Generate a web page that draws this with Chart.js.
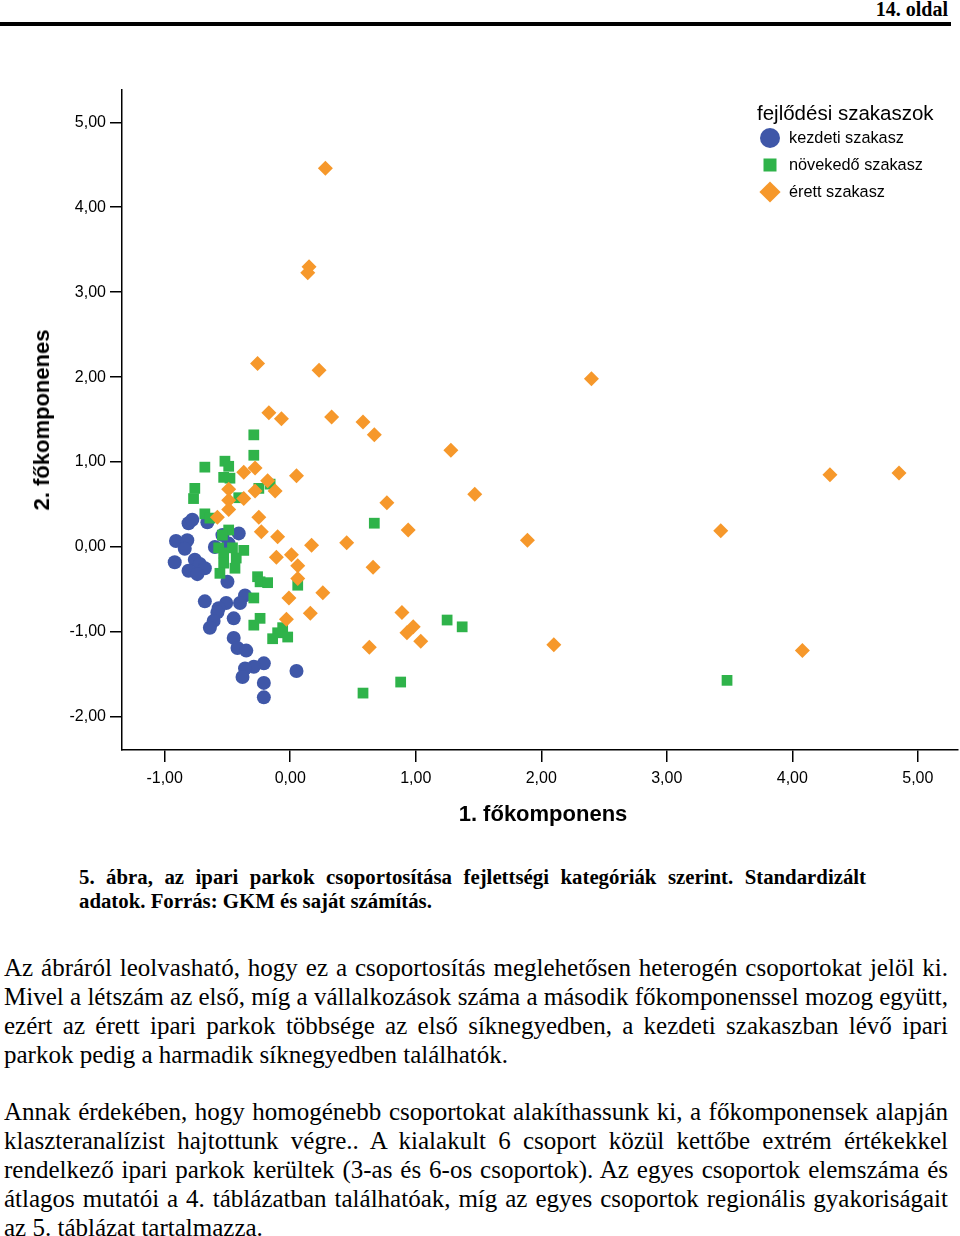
<!DOCTYPE html>
<html lang="hu"><head><meta charset="utf-8">
<script src="https://cdn.jsdelivr.net/npm/chart.js@4.4.1/dist/chart.umd.min.js"></script>
<style>
body{margin:0;width:960px;height:1236px;position:relative;background:#fff;overflow:hidden;color:#000}
#hdr{position:absolute;right:12px;top:-2px;font:bold 20px "Liberation Serif","Times New Roman",serif;}
#rule{position:absolute;left:0;top:22px;width:951px;height:4px;background:#000}
#wrap{position:absolute;left:0;top:0;width:966px;height:860px}
.ytitle{position:absolute;left:42px;top:420px;transform:translate(-50%,-50%) rotate(-90deg);font:bold 22px "Liberation Sans",Arial,sans-serif;white-space:nowrap}
.xtitle{position:absolute;left:543px;top:814px;transform:translate(-50%,-50%);font:bold 22px "Liberation Sans",Arial,sans-serif;white-space:nowrap}
#legend{position:absolute;left:757px;top:98px;font-family:"Liberation Sans",Arial,sans-serif}
#legend .t{font-size:20.5px;line-height:26px;white-space:nowrap;position:relative;top:2px}
#legend .it{position:relative;height:27px;font-size:16.3px;line-height:27px;padding-left:32px;white-space:nowrap}
#legend .m{position:absolute;left:13px;top:50%;transform:translate(-50%,-50%)}
.cap{position:absolute;left:79px;width:787px;font:bold 20.8px "Liberation Serif","Times New Roman",serif;line-height:24px;white-space:nowrap}
.ln{position:absolute;left:4px;width:944px;font:25px "Liberation Serif","Times New Roman",serif;line-height:29px;white-space:nowrap}
.j{text-align:justify;text-align-last:justify;white-space:normal}
</style></head><body>
<div id="hdr">14. oldal</div>
<div id="rule"></div>
<div id="wrap"><canvas id="c" width="966" height="860"></canvas></div>
<div class="ytitle">2. főkomponenes</div>
<div class="xtitle">1. főkomponens</div>
<div id="legend">
 <div class="t">fejlődési szakaszok</div>
 <div class="it"><span class="m" style="width:20px;height:20px;border-radius:50%;background:#3f57a8"></span>kezdeti szakasz</div>
 <div class="it"><span class="m" style="width:13px;height:13px;background:#2fb34a"></span>növekedő szakasz</div>
 <div class="it"><span class="m" style="width:15px;height:15px;background:#f6982b;transform:translate(-50%,-50%) rotate(45deg)"></span>érett szakasz</div>
</div>
<div class="cap j" style="top:865px">5. ábra, az ipari parkok csoportosítása fejlettségi kategóriák szerint. Standardizált</div>
<div class="cap" style="top:889px">adatok. Forrás: GKM és saját számítás.</div>
<div class="ln j" style="top:953px">Az ábráról leolvasható, hogy ez a csoportosítás meglehetősen heterogén csoportokat jelöl ki.</div>
<div class="ln j" style="top:982px">Mivel a létszám az első, míg a vállalkozások száma a második főkomponenssel mozog együtt,</div>
<div class="ln j" style="top:1011px">ezért az érett ipari parkok többsége az első síknegyedben, a kezdeti szakaszban lévő ipari</div>
<div class="ln" style="top:1040px">parkok pedig a harmadik síknegyedben találhatók.</div>
<div class="ln j" style="top:1097px">Annak érdekében, hogy homogénebb csoportokat alakíthassunk ki, a főkomponensek alapján</div>
<div class="ln j" style="top:1126px">klaszteranalízist hajtottunk végre.. A kialakult 6 csoport közül kettőbe extrém értékekkel</div>
<div class="ln j" style="top:1155px">rendelkező ipari parkok kerültek (3-as és 6-os csoportok). Az egyes csoportok elemszáma és</div>
<div class="ln j" style="top:1184px">átlagos mutatói a 4. táblázatban találhatóak, míg az egyes csoportok regionális gyakoriságait</div>
<div class="ln" style="top:1213px">az 5. táblázat tartalmazza.</div>
<script>
// Data (1. főkomponens = x, 2. főkomponens = y)
const seriesNames = ['kezdeti szakasz', 'növekedő szakasz', 'érett szakasz'];
const kezdetiX = [-0.81,-0.78,-0.66,-0.41,-0.54,-0.91,-0.82,-0.84,-0.60,-0.49,-0.92,-0.76,-0.72,-0.68,-0.81,-0.74,-0.50,-0.68,-0.36,-0.40,-0.51,-0.57,-0.58,-0.45,-0.61,-0.64,-0.45,-0.42,-0.35,-0.21,-0.29,-0.36,-0.38,-0.21,-0.21,0.05];
const kezdetiY = [0.28,0.32,0.29,0.16,0.14,0.07,0.08,-0.02,0.00,0.04,-0.18,-0.15,-0.20,-0.25,-0.28,-0.32,-0.41,-0.64,-0.57,-0.66,-0.66,-0.72,-0.77,-0.84,-0.87,-0.95,-1.07,-1.19,-1.22,-1.37,-1.41,-1.43,-1.53,-1.60,-1.77,-1.46];
const novekedoX = [-0.29,-0.29,-0.68,-0.52,-0.49,-0.53,-0.48,-0.76,-0.77,-0.41,-0.25,-0.16,-0.68,-0.64,-0.49,-0.54,-0.57,-0.46,-0.37,-0.53,-0.43,-0.53,-0.44,-0.56,-0.26,-0.24,-0.18,0.06,-0.29,-0.24,-0.29,-0.06,-0.10,-0.14,-0.02,0.67,1.25,1.37,0.58,0.88,3.48];
const novekedoY = [1.32,1.08,0.94,1.01,0.95,0.82,0.81,0.69,0.57,0.58,0.69,0.74,0.39,0.34,0.20,0.14,-0.01,-0.01,-0.04,-0.07,-0.13,-0.19,-0.25,-0.31,-0.35,-0.41,-0.42,-0.45,-0.60,-0.84,-0.92,-0.95,-1.01,-1.08,-1.06,0.28,-0.86,-0.94,-1.72,-1.59,-1.57];
const erettX = [0.28,0.15,0.14,-0.26,0.23,2.40,-0.17,-0.07,0.33,0.58,0.67,1.28,-0.28,-0.37,0.05,4.30,4.85,-0.18,-0.49,-0.12,-0.28,1.47,-0.37,-0.49,0.77,-0.49,-0.58,-0.25,0.94,3.43,-0.23,-0.10,1.89,0.45,0.17,-0.11,0.01,0.06,0.66,0.06,0.26,-0.01,0.16,0.89,-0.03,0.98,0.93,1.04,2.10,0.63,4.08];
const erettY = [4.46,3.30,3.23,2.16,2.08,1.98,1.58,1.51,1.53,1.47,1.32,1.14,0.93,0.88,0.84,0.85,0.87,0.78,0.68,0.66,0.66,0.62,0.57,0.55,0.52,0.44,0.35,0.35,0.20,0.19,0.18,0.12,0.08,0.05,0.02,-0.12,-0.09,-0.22,-0.24,-0.37,-0.54,-0.60,-0.78,-0.77,-0.85,-0.94,-1.01,-1.11,-1.15,-1.18,-1.22];
const xTickValues = [-1,0,1,2,3,4,5];
const xTickLabels = ['-1,00','0,00','1,00','2,00','3,00','4,00','5,00'];
const yTickValues = [-2,-1,0,1,2,3,4,5];
const yTickLabels = ['-2,00','-1,00','0,00','1,00','2,00','3,00','4,00','5,00'];

const pts = (xs, ys) => xs.map((x, i) => ({x, y: ys[i]}));
const axisFont = {family: '"Liberation Sans", Arial, sans-serif', size: 16};

new Chart(document.getElementById('c'), {
  type: 'scatter',
  data: {
    datasets: [
      {label: seriesNames[2], data: pts(erettX, erettY), pointStyle: 'rectRot', pointRadius: 7.5, pointHoverRadius: 7.5, backgroundColor: '#f6982b', borderWidth: 0},
      {label: seriesNames[1], data: pts(novekedoX, novekedoY), pointStyle: 'rect', pointRadius: 7.6, pointHoverRadius: 7.6, backgroundColor: '#2fb34a', borderWidth: 0},
      {label: seriesNames[0], data: pts(kezdetiX, kezdetiY), pointStyle: 'circle', pointRadius: 7, pointHoverRadius: 7, backgroundColor: '#3f57a8', borderWidth: 0}
    ]
  },
  options: {
    responsive: false,
    animation: false,
    events: [],
    layout: {padding: {top: 90, right: 8, left: 0, bottom: 0}},
    plugins: {legend: {display: false}, tooltip: {enabled: false}},
    scales: {
      x: {
        type: 'linear', min: -1.34, max: 5.32,
        afterFit: s => { s.height = 110; s.paddingLeft = 0; s.paddingRight = 0; },
        afterBuildTicks: s => { s.ticks = xTickValues.map(v => ({value: v})); },
        ticks: {callback: (v) => xTickLabels[xTickValues.indexOf(v)], color: '#000', font: axisFont, padding: 7, maxRotation: 0, autoSkip: false},
        grid: {drawOnChartArea: false, drawTicks: true, tickLength: 12, color: '#000', lineWidth: 1.5},
        border: {display: true, color: '#000', width: 1.5}
      },
      y: {
        type: 'linear', min: -2.39, max: 5.38,
        afterFit: s => { s.width = 122; s.paddingTop = 0; s.paddingBottom = 0; },
        afterBuildTicks: s => { s.ticks = yTickValues.map(v => ({value: v})); },
        ticks: {callback: (v) => yTickLabels[yTickValues.indexOf(v)], color: '#000', font: axisFont, padding: 4, autoSkip: false},
        grid: {drawOnChartArea: false, drawTicks: true, tickLength: 12, color: '#000', lineWidth: 1.5},
        border: {display: true, color: '#000', width: 1.5}
      }
    }
  }
});
</script>
</body></html>
